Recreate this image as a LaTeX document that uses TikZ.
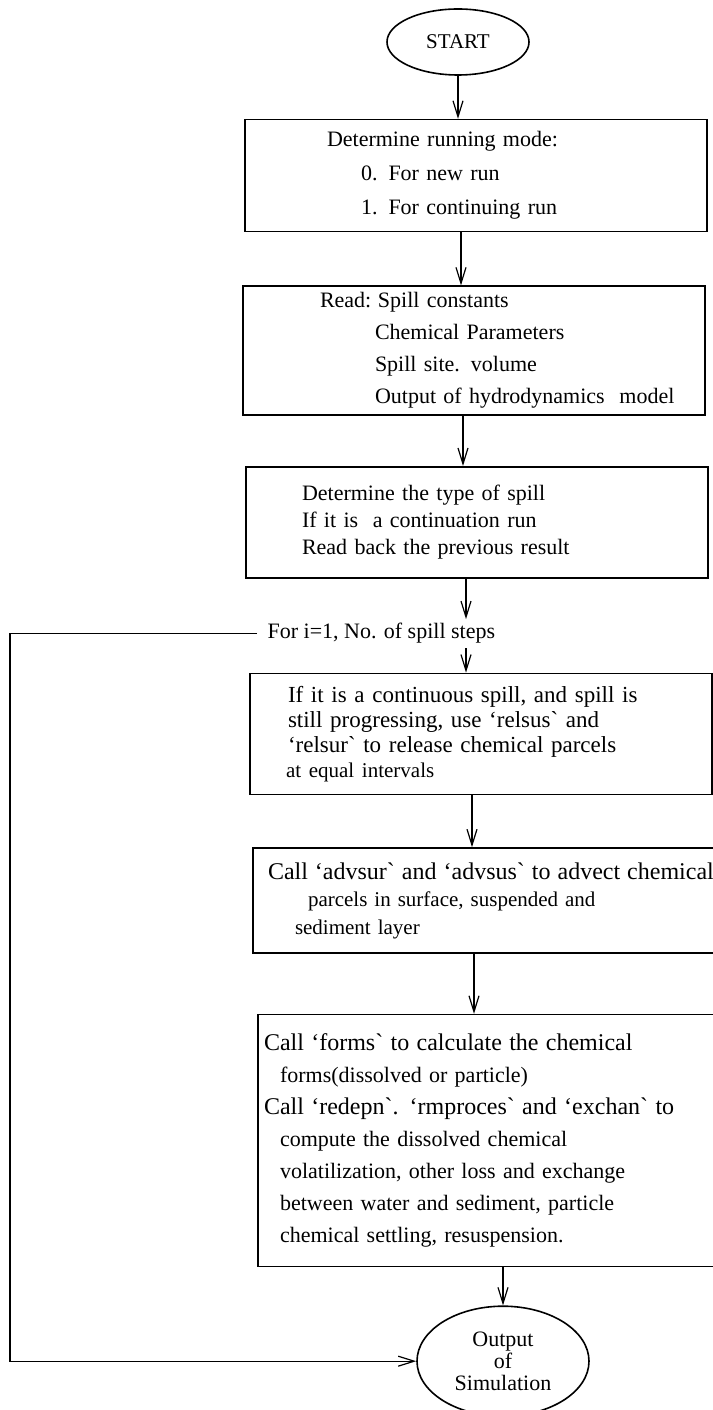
\documentclass[tikz,border=0pt]{standalone}
\usepackage{fontspec}
\setmainfont{Liberation Serif}
\usepackage{tikz}
\usetikzlibrary{shapes.geometric, arrows.meta, positioning, calc}
\tikzstyle{arrow} = [line width=0.6pt, -{Straight Barb[length=8pt, width=5pt]}]

\begin{document}
\begin{tikzpicture}[
      stepbox/.style={rectangle, draw=black, line width=0.8pt, inner xsep=0pt, inner ysep=0pt, text width=231pt, minimum width=231pt, align=left},
      terminal/.style={ellipse, draw=black, line width=0.8pt, inner sep=0pt, align=center},
      looptext/.style={inner xsep=5pt, inner ysep=2pt, font=\fontsize{11}{13}\selectfont},
    ]
    \useasboundingbox (0,0) rectangle (356.5pt,705pt);

    % Nodes
    \node[terminal, minimum width=71pt, minimum height=33pt, font=\fontsize{10.5}{12}\selectfont] (start) at (229pt,684pt) {START};
    \node[stepbox, minimum height=56pt, font=\fontsize{11}{17}\selectfont, below=21.5pt of start, xshift=9pt] (mode) {%
      \hspace*{41pt}Determine running mode:\\
      \hspace*{58pt}0. For new run\\
      \hspace*{58pt}1. For continuing run};
    \node[stepbox, minimum height=64.5pt, font=\fontsize{11}{16}\selectfont, below=26.5pt of mode, xshift=-1pt] (read) {%
      \hspace*{38.5pt}\makebox[29pt][l]{Read:}Spill constants\\
      \hspace*{66pt}Chemical Parameters\\
      \hspace*{66pt}Spill site. volume\\
      \hspace*{66pt}Output of hydrodynamics\ \ model};
    \node[stepbox, minimum height=55.5pt, font=\fontsize{11}{13.5}\selectfont, below=25pt of read, xshift=1.5pt] (type) {%
      \hspace*{28pt}Determine the type of spill\\
      \hspace*{28pt}If it is\ \ a continuation run\\
      \hspace*{28pt}Read back the previous result};
    \node[looptext, below=27.5pt of type.south west, anchor=west, xshift=6pt] (steps) {For i=1, No. of spill steps};
    \node[stepbox, minimum height=60.5pt, font=\fontsize{11.5}{12.5}\selectfont, below=47pt of type, xshift=2pt] (spill) {%
      \hspace*{19pt}If it is a continuous spill, and spill is\\
      \hspace*{19pt}still progressing, use ‘relsus\textasciigrave{} and\\
      \hspace*{19pt}‘relsur\textasciigrave{} to release chemical parcels\\
      \hspace*{18pt}{\fontsize{10.5}{12.5}\selectfont at equal intervals}};
    \node[stepbox, minimum height=52.5pt, font=\fontsize{10.5}{13.75}\selectfont, below=26pt of spill, xshift=1.5pt] (advect) {%
      \hspace*{7.5pt}{\fontsize{12}{13.75}\selectfont Call ‘advsur\textasciigrave{} and ‘advsus\textasciigrave{} to advect chemical}\\
      \hspace*{27.5pt}parcels in surface, suspended and\\
      \hspace*{21pt}sediment layer};
    \node[stepbox, minimum height=126pt, font=\fontsize{11}{16}\selectfont, below=30pt of advect, xshift=2.5pt] (forms) {%
      \hspace*{3pt}{\fontsize{12}{16}\selectfont Call ‘forms\textasciigrave{} to calculate the chemical}\\
      \hspace*{11pt}forms(dissolved or particle)\\
      \hspace*{3pt}{\fontsize{12}{16}\selectfont Call ‘redepn\textasciigrave. ‘rmproces\textasciigrave{} and ‘exchan\textasciigrave{} to}\\
      \hspace*{11pt}compute the dissolved chemical\\
      \hspace*{11pt}volatilization, other loss and exchange\\
      \hspace*{11pt}between water and sediment, particle\\
      \hspace*{11pt}chemical settling, resuspension.};
    \node[terminal, minimum width=86pt, minimum height=55pt, font=\fontsize{11}{11}\selectfont, below=19pt of forms, xshift=7pt] (out) {Output\\of\\Simulation};
    \coordinate (loopx) at (5pt,0);

    % Edges
    \draw[arrow] (start) -- (start |- mode.north);
    \draw[arrow] ([xshift=-7.5pt]mode.south) -- ([xshift=-7.5pt]mode.south |- read.north);
    \draw[arrow] ([xshift=-5.5pt]read.south) -- ([xshift=-5.5pt]read.south |- type.north);
    \draw[arrow] ([xshift=-5.5pt]type.south) -- ([xshift=-5.5pt]type.south |- steps.north);
    \draw[arrow] ([xshift=-5.5pt]type.south |- steps.south) -- ([xshift=-5.5pt]type.south |- spill.north);
    \draw[arrow] ([xshift=-4.5pt]spill.south) -- ([xshift=-4.5pt]spill.south |- advect.north);
    \draw[arrow] ([xshift=-5pt]advect.south) -- ([xshift=-5pt]advect.south |- forms.north);
    \draw[arrow] (forms.south -| out) -- (out);
    \draw[arrow] (steps.west) -- (steps.west -| loopx) |- (out.west);

  \end{tikzpicture}
\end{document}
